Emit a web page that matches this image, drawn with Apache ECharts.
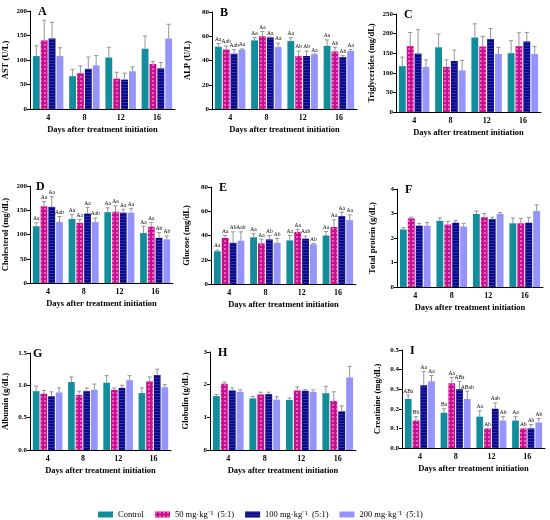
<!DOCTYPE html>
<html>
<head>
<meta charset="utf-8">
<script src="https://cdn.jsdelivr.net/npm/echarts@6.0.0/dist/echarts.min.js"></script>
<style>
html, body { margin: 0; padding: 0; background: #fff; }
#main { width: 550px; height: 520px; }
</style>
</head>
<body>
<div id="main"></div>
<script>
// 分类和分组
var days = ['4', '8', '12', '16'];
var groups = ['Control', '50 mg·kg⁻¹  (5:1)', '100 mg·kg⁻¹  (5:1)', '200 mg·kg⁻¹  (5:1)'];

// 每个数组: [Control, 50, 100, 200] x [4, 8, 12, 16 天]
var astMean = [[108, 67, 105, 123], [140, 73, 62, 92], [144, 82, 60, 83], [108, 89, 77, 144]];
var astSd = [[21, 14, 21, 26], [41, 15, 13, 5], [33, 24, 13, 12], [17, 20, 9, 29]];

var alpMean = [[51.4, 56.6, 56, 52], [49, 60, 43.7, 47.5], [45.6, 59, 43.7, 42.8], [49, 51, 45, 47.8]];
var alpSd = [[2.6, 2.4, 2.8, 5], [3, 4, 4.1, 3.5], [3.4, 0.3, 4.1, 1.2], [0.5, 3.4, 0.3, 1.2]];
var alpTags = [['Aa', 'Aa', 'Aa', 'Aa'], ['Aab', 'Aa', 'Ab', 'Ab'], ['Aab', 'Aa', 'Ab', 'Ab'], ['Aa', 'Aa', 'Aa', 'Aa']];

var tgMean = [[117, 165, 190, 150], [168, 115, 167, 168], [149, 130, 186, 180], [115, 106, 148, 148]];
var tgSd = [[23, 34, 35, 32], [35, 18, 26, 34], [61, 28, 27, 23], [18, 26, 17, 19]];

var cholMean = [[117, 132, 146, 103], [158, 124, 147, 116], [157, 143, 145, 93], [126, 125.5, 145, 90]];
var cholSd = [[7, 9, 9, 14], [10, 7, 12, 9], [21, 13, 7, 11], [11, 8.5, 9, 7]];
var cholTags = [['Aa', 'Aa', 'Aa', 'Aa'], ['Aa', 'Aa', 'Aa', 'Aa'], ['Aa', 'Aa', 'Aa', 'Ab'], ['Aab', 'Aab', 'Aa', 'Ab']];

var gluMean = [[27, 38.5, 36, 40], [38, 33.5, 43, 47], [34, 36.8, 37.4, 56], [35.7, 34, 32.7, 52.7]];
var gluSd = [[1, 3, 4, 3.4], [2, 3.5, 2, 6], [9, 3.2, 2.2, 3.3], [7.3, 3.6, 0.8, 4.3]];
var gluTags = [['Aa', 'Aa', 'Aa', 'Aa'], ['Aa', 'Aa', 'Aa', 'Aa'], ['Ab', 'Ab', 'Aab', 'Aa'], ['Aab', 'Ab', 'Ab', 'Aa']];

var tpMean = [[2.35, 2.7, 2.98, 2.6], [2.8, 2.55, 2.85, 2.6], [2.5, 2.62, 2.77, 2.62], [2.5, 2.47, 2.98, 3.1]];
var tpSd = [[0.07, 0.12, 0.12, 0.22], [0.05, 0.13, 0.15, 0.2], [0.1, 0.1, 0.08, 0.22], [0.13, 0.13, 0.06, 0.25]];

var albMean = [[0.91, 1.05, 1.04, 0.88], [0.87, 0.85, 0.93, 1.06], [0.83, 0.91, 0.96, 1.16], [0.89, 0.93, 1.08, 0.97]];
var albSd = [[0.08, 0.08, 0.11, 0.08], [0.05, 0.06, 0.03, 0.07], [0.07, 0.05, 0.04, 0.09], [0.07, 0.09, 0.07, 0.04]];

var gloMean = [[1.65, 1.58, 1.53, 1.74], [2.03, 1.70, 1.82, 1.50], [1.82, 1.71, 1.81, 1.18], [1.78, 1.54, 1.78, 2.22]];
var gloSd = [[0.05, 0.06, 0.06, 0.21], [0.05, 0.07, 0.11, 0.28], [0.08, 0.06, 0.04, 0.17], [0.06, 0.09, 0.06, 0.34]];

var creMean = [[0.25, 0.18, 0.16, 0.14], [0.14, 0.33, 0.10, 0.10], [0.32, 0.30, 0.20, 0.10], [0.34, 0.25, 0.14, 0.13]];
var creSd = [[0.02, 0.02, 0.03, 0.02], [0.02, 0.03, 0, 0], [0.07, 0.04, 0.03, 0.02], [0.03, 0.04, 0.02, 0.02]];
var creTags = [['ABa', 'Ba', 'Aa', 'Aa'], ['Bb', 'Aa', 'Ab', 'Ab'], ['Aa', 'ABa', 'Aab', 'Ab'], ['Aa', 'ABab', 'Ab', 'Ab']];

var SERIF = '"Liberation Serif", "Times New Roman", serif';
var colors = ['#138D9B', '#C8108E', '#0A0A85', '#9494FA'];
var decals = [
	null,
	{ symbol: 'rect', symbolSize: 1, dashArrayX: [2, 2], dashArrayY: [2, 2], color: 'rgba(255, 150, 225, 0.6)' },
	{ symbol: 'rect', symbolSize: 1, dashArrayX: [1, 0], dashArrayY: [1, 2], color: 'rgba(70, 70, 200, 0.6)' },
	null
];
var CAT_GAP = 0.16, BAR_GAP = 0.15;

// 九个小图  pos = [left, top, width, height]
var panels = [
	{ key: 'A', yName: 'AST (U/L)', max: 200, step: 50, mean: astMean, sd: astSd, pos: [30, 11, 145, 98] },
	{ key: 'B', yName: 'ALP (U/L)', max: 80, step: 20, mean: alpMean, sd: alpSd, tags: alpTags, pos: [212, 12, 145, 97] },
	{ key: 'C', yName: 'Triglycerides (mg/dL)', max: 250, step: 50, mean: tgMean, sd: tgSd, pos: [396, 14, 145, 98] },
	{ key: 'D', yName: 'Cholesterol (mg/dL)', max: 200, step: 50, mean: cholMean, sd: cholSd, tags: cholTags, pos: [28, 186, 145, 97] },
	{ key: 'E', yName: 'Glucose (mg/dL)', max: 80, step: 20, mean: gluMean, sd: gluSd, tags: gluTags, pos: [211, 187, 145, 97] },
	{ key: 'F', yName: 'Total protein (g/dL)', max: 4, step: 1, mean: tpMean, sd: tpSd, pos: [397, 189, 146, 98] },
	{ key: 'G', yName: 'Albumin (g/dL)', max: 1.5, step: 0.5, dec: 1, mean: albMean, sd: albSd, pos: [25, 353, 146, 97] },
	{ key: 'H', yName: 'Globulin (g/dL)', max: 3, step: 1, mean: gloMean, sd: gloSd, pos: [210, 352, 146, 98] },
	{ key: 'I', yName: 'Creatinine (mg/dL)', max: 0.5, step: 0.1, dec: 1, mean: creMean, sd: creSd, tags: creTags, pos: [402, 350, 143, 98] }
];

// 误差线 + 字母标注
function makeErr(tags) {
	return function(params, api) {
		var d = api.value(0), k = api.value(1), m = api.value(2), s = api.value(3);
		var base = api.coord([d, m]);
		var top = api.coord([d, m + s]);
		var band = api.size([1, 0])[0];
		var usable = band * (1 - CAT_GAP);
		var bw = usable / (4 + 3 * BAR_GAP);
		var cx = base[0] - usable / 2 + k * bw * (1 + BAR_GAP) + bw / 2;
		var style = { stroke: '#8a8a8a', lineWidth: 0.9 };
		var children = [];
		if (s > 0) {
			children.push({ type: 'line', shape: { x1: cx, y1: base[1], x2: cx, y2: top[1] }, style: style });
			children.push({ type: 'line', shape: { x1: cx - bw * 0.3, y1: top[1], x2: cx + bw * 0.3, y2: top[1] }, style: style });
		}
		var t = tags[params.dataIndex];
		if (t) {
			children.push({
				type: 'text',
				x: cx, y: top[1] - 1,
				style: { text: t, fill: '#000', font: '5.5px ' + SERIF, textAlign: 'center', textVerticalAlign: 'bottom' }
			});
		}
		return { type: 'group', children: children };
	};
}

var grids = [], xAxes = [], yAxes = [], titles = [], series = [];

panels.forEach(function(p, i) {
	grids.push({ left: p.pos[0], top: p.pos[1], width: p.pos[2], height: p.pos[3] });
	titles.push({
		text: p.key, left: p.pos[0] + 3, top: p.pos[1] - 10,
		textStyle: { fontFamily: SERIF, fontWeight: 'bold', fontSize: 12, color: '#000' }
	});
	xAxes.push({
		type: 'category', gridIndex: i, data: days,
		name: 'Days after treatment initiation', nameLocation: 'middle', nameGap: 16,
		nameTextStyle: { fontFamily: SERIF, fontWeight: 'bold', fontSize: 8.5, color: '#000' },
		axisLine: { lineStyle: { color: '#000', width: 1 } },
		axisTick: { alignWithLabel: true, length: 3, lineStyle: { color: '#000' } },
		axisLabel: { fontFamily: SERIF, fontWeight: 'bold', fontSize: 8, color: '#000', margin: 5 }
	});
	yAxes.push({
		type: 'value', gridIndex: i, min: 0, max: p.max, interval: p.step,
		name: p.yName, nameLocation: 'middle', nameGap: 20,
		nameTextStyle: { fontFamily: SERIF, fontWeight: 'bold', fontSize: 8.5, color: '#000' },
		axisLine: { show: true, lineStyle: { color: '#000', width: 1 } },
		axisTick: { show: true, length: 3, lineStyle: { color: '#000' } },
		splitLine: { show: false },
		axisLabel: {
			fontFamily: SERIF, fontWeight: 'bold', fontSize: 7, color: '#000', margin: 3,
			formatter: p.dec ? function(v) { return v.toFixed(p.dec); } : function(v) { return Math.round(v) + ''; }
		}
	});
	groups.forEach(function(g, k) {
		series.push({
			type: 'bar', name: g, xAxisIndex: i, yAxisIndex: i,
			data: p.mean[k],
			barCategoryGap: (CAT_GAP * 100) + '%', barGap: (BAR_GAP * 100) + '%',
			itemStyle: { color: colors[k], decal: decals[k] },
			silent: true
		});
	});
	var errData = [], tags = [];
	for (var k = 0; k < 4; k++) {
		for (var d = 0; d < 4; d++) {
			errData.push([d, k, p.mean[k][d], p.sd[k][d]]);
			tags.push(p.tags ? p.tags[k][d] : '');
		}
	}
	series.push({
		type: 'custom', xAxisIndex: i, yAxisIndex: i, z: 5, silent: true,
		data: errData, renderItem: makeErr(tags)
	});
});

var myChart = echarts.init(document.getElementById('main'));
myChart.setOption({
	backgroundColor: '#fff',
	animation: false,
	title: titles,
	legend: {
		data: groups, left: 93, top: 505,
		itemWidth: 15, itemHeight: 6, itemGap: 11,
		icon: 'rect',
		textStyle: { fontFamily: SERIF, fontSize: 8.5, color: '#000' }
	},
	grid: grids,
	xAxis: xAxes,
	yAxis: yAxes,
	series: series
});
</script>
</body>
</html>
